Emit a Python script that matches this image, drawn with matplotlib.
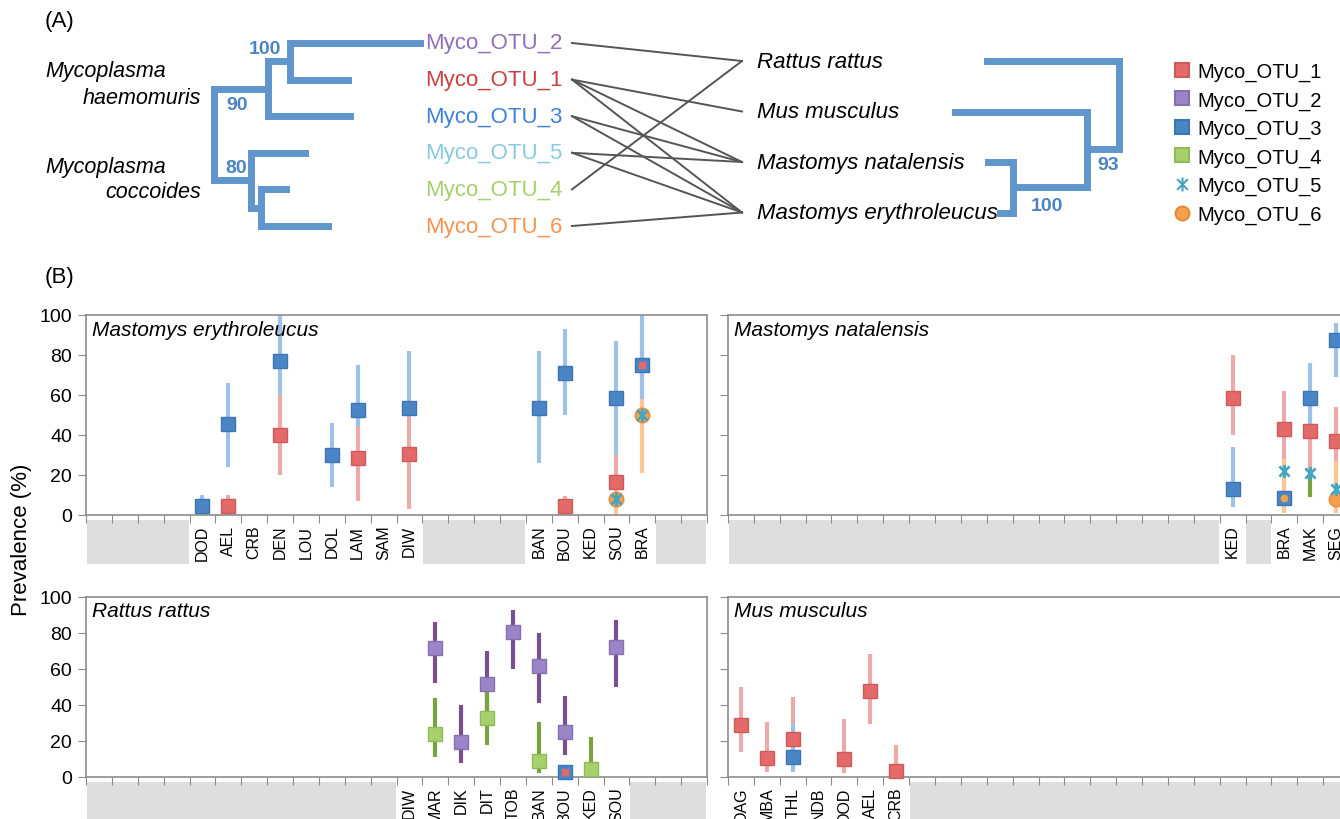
import numpy as np
import matplotlib
matplotlib.use('Agg')
import matplotlib.pyplot as plt
from matplotlib.lines import Line2D
from matplotlib.path import Path
from matplotlib.patches import Rectangle
import matplotlib.transforms as mtransforms

plt.rcParams['font.family'] = ['Liberation Sans', 'DejaVu Sans']

# ---------------- panel A data ----------------
otu_rows = ['Myco_OTU_2', 'Myco_OTU_1', 'Myco_OTU_3', 'Myco_OTU_5', 'Myco_OTU_4', 'Myco_OTU_6']
hosts = ['Rattus rattus', 'Mus musculus', 'Mastomys natalensis', 'Mastomys erythroleucus']
links = [('Myco_OTU_2', 'Rattus rattus'), ('Myco_OTU_1', 'Mus musculus'),
         ('Myco_OTU_1', 'Mastomys natalensis'), ('Myco_OTU_1', 'Mastomys erythroleucus'),
         ('Myco_OTU_3', 'Mastomys natalensis'), ('Myco_OTU_3', 'Mastomys erythroleucus'),
         ('Myco_OTU_5', 'Mastomys natalensis'), ('Myco_OTU_5', 'Mastomys erythroleucus'),
         ('Myco_OTU_4', 'Rattus rattus'), ('Myco_OTU_6', 'Mastomys erythroleucus')]

# cladograms: branch depth from root, tips point to a row
myco_tree = {'d': 0, 'kids': [
    {'d': 54, 'lab': '90', 'off': (-31, -16), 'kids': [
        {'d': 76, 'lab': '100', 'off': (-25, 13), 'kids': [{'d': 206, 'row': 0}, {'d': 134, 'row': 1}]},
        {'d': 136, 'row': 2}]},
    {'d': 37, 'lab': '80', 'off': (-15, 13), 'kids': [
        {'d': 91, 'row': 3},
        {'d': 47, 'kids': [{'d': 72, 'row': 4}, {'d': 114, 'row': 5}]}]}]}
host_tree = {'d': 0, 'kids': [
    {'d': 132, 'row': 0},
    {'d': 32, 'lab': '93', 'off': (21, -15), 'kids': [
        {'d': 164, 'row': 1},
        {'d': 106, 'lab': '100', 'off': (34, -18), 'kids': [{'d': 131, 'row': 2}, {'d': 119, 'row': 3}]}]}]}

# ---------------- panel B data ----------------
me_sites = ['', '', '', '', 'DOD', 'AEL', 'CRB', 'DEN', 'LOU', 'DOL', 'LAM', 'SAM', 'DIW',
            '', '', '', '', 'BAN', 'BOU', 'KED', 'SOU', 'BRA', '', '']
mn_sites = [''] * 19 + ['KED', '', 'BRA', 'MAK', 'SEG']
rr_sites = [''] * 12 + ['DIW', 'MAR', 'DIK', 'DIT', 'TOB', 'BAN', 'BOU', 'KED', 'SOU', '', '', '']
mm_sites = ['DAG', 'MBA', 'THL', 'NDB', 'DOD', 'AEL', 'CRB'] + [''] * 17

# (site, prevalence, lower, upper)
me_otu1 = [('AEL', 4.6, 0, 10), ('DEN', 40, 20, 60), ('LAM', 28.4, 7, 44), ('DIW', 30.7, 3, 52),
           ('BOU', 4.6, 0, 9.5), ('SOU', 16.7, 5, 30), ('BRA', 75, 60, 88)]
me_otu3 = [('DOD', 4.6, 0, 10), ('AEL', 45.3, 24, 66), ('DEN', 77, 60, 100), ('DOL', 30, 14, 46),
           ('LAM', 52.4, 44, 75), ('DIW', 53.7, 52, 82), ('BAN', 53.7, 26, 82), ('BOU', 71, 50, 93),
           ('SOU', 58.4, 30, 87), ('BRA', 75, 58, 100)]
me_otu5 = [('SOU', 8, None, None), ('BRA', 50, None, None)]
me_otu6 = [('SOU', 8, 0, 14), ('BRA', 50, 21, 58)]

mn_otu1 = [('KED', 58.7, 40, 80), ('BRA', 43, 26, 62), ('MAK', 41.8, 20, 58), ('SEG', 37, 24, 54)]
mn_otu3 = [('KED', 13, 4, 34), ('BRA', 8.5, 2, 24), ('MAK', 58.4, 45, 76), ('SEG', 87.5, 69, 96)]
mn_otu4 = [('MAK', None, 9, 21)]
mn_otu5 = [('BRA', 21.8, None, None), ('MAK', 21, None, None), ('SEG', 13, None, None)]
mn_otu6 = [('BRA', 8.5, 1, 28), ('SEG', 8, 1, 27)]

rr_otu1 = [('BOU', 3, None, None)]
rr_otu2 = [('MAR', 71.6, 52, 86), ('DIK', 19.5, 8, 40), ('DIT', 51.8, 35, 70), ('TOB', 80.8, 60, 93),
           ('BAN', 61.6, 41, 80), ('BOU', 24.9, 12, 45), ('SOU', 72.5, 50, 87)]
rr_otu3 = [('BOU', 3, None, None)]
rr_otu4 = [('MAR', 23.7, 11, 44), ('DIT', 32.9, 18, 50), ('BAN', 9, 2, 30.5), ('KED', 4.2, 0, 22.5)]

mm_otu1 = [('DAG', 29, 14, 50), ('MBA', 10.7, 3, 30.5), ('THL', 21, 8, 44.5), ('DOD', 10, 2, 32),
           ('AEL', 47.6, 29.5, 68.5), ('CRB', 3.2, 0, 18)]
mm_otu3 = [('THL', 11.2, 3, 30)]

# markers drawn smaller because they sit on top of another one
small_marks = {('ME', 'OTU1', 'BRA'), ('RR', 'OTU1', 'BOU'), ('MN', 'OTU6', 'BRA')}

star = Path([(-1, -1), (1, 1), (-1, 1), (1, -1), (0, -1.3), (0, 1.3)],
            [Path.MOVETO, Path.LINETO, Path.MOVETO, Path.LINETO, Path.MOVETO, Path.LINETO])

otu_style = {
    'OTU1': dict(marker='s', face='#e46a6a', edge='#cf5a5a', bar='#eeaaaa', ms=9.5),
    'OTU2': dict(marker='s', face='#9c85c6', edge='#8670b0', bar='#76508f', ms=9.5),
    'OTU3': dict(marker='s', face='#4a86c6', edge='#3d74b2', bar='#a0c1e6', ms=9.5),
    'OTU4': dict(marker='s', face='#a8d06c', edge='#90ba55', bar='#7aa33f', ms=9.5),
    'OTU5': dict(marker=star, face='none', edge='#45a6c0', bar='#9fd5e3', ms=9.5),
    'OTU6': dict(marker='o', face='#f6a04e', edge='#e58a3a', bar='#fbc797', ms=10.5),
}
otu_text_col = {'Myco_OTU_2': '#8e6fba', 'Myco_OTU_1': '#c9403f', 'Myco_OTU_3': '#3d82d6',
                'Myco_OTU_5': '#86cbe0', 'Myco_OTU_4': '#a5d06a', 'Myco_OTU_6': '#f39450'}
tree_col = '#6096cc'
boot_col = '#4a84c6'
frame_col = '#8c8c8c'

W, H = 1340, 820
fig = plt.figure(figsize=(W / 100, H / 100), dpi=100)

# ---------------- panel A ----------------
axA = fig.add_axes([0, 1 - 265 / H, 1, 265 / H])
axA.set_xlim(0, W)
axA.set_ylim(265, 0)
axA.axis('off')


def draw_tree(ax, node, root_x, sign, row_y):
    x = root_x + sign * node['d']
    if 'row' in node:
        return x, row_y(node['row'])
    pts = [draw_tree(ax, k, root_x, sign, row_y) for k in node['kids']]
    ys = [p[1] for p in pts]
    for cx, cy in pts:
        ax.plot([x, cx], [cy, cy], color=tree_col, lw=5, solid_capstyle='projecting')
    ax.plot([x, x], [min(ys), max(ys)], color=tree_col, lw=5, solid_capstyle='projecting')
    y = (min(ys) + max(ys)) / 2
    if 'lab' in node:
        ax.annotate(node['lab'], (x, y), xytext=node['off'], textcoords='offset pixels',
                    ha='center', va='center', color=boot_col, fontsize=14, fontweight='bold')
    return x, y


otu_y = lambda i: 44 + 36.6 * i
host_y = lambda i: 62 + 50.5 * i
draw_tree(axA, myco_tree, 214, 1, otu_y)
draw_tree(axA, host_tree, 1119, -1, host_y)

for i, name in enumerate(otu_rows):
    axA.text(425, otu_y(i), name, color=otu_text_col[name], fontsize=16, va='center', ha='left')
for i, name in enumerate(hosts):
    axA.text(757, host_y(i), name, style='italic', fontsize=16, va='center', ha='left')
for o, h in links:
    axA.plot([572, 742], [otu_y(otu_rows.index(o)), host_y(hosts.index(h))], color='#555555', lw=1.4)

axA.text(45, 72, 'Mycoplasma', style='italic', fontsize=15.5, va='center', ha='left')
axA.text(201, 98, 'haemomuris', style='italic', fontsize=15.5, va='center', ha='right')
axA.text(45, 167, 'Mycoplasma', style='italic', fontsize=15.5, va='center', ha='left')
axA.text(201, 193, 'coccoides', style='italic', fontsize=15.5, va='center', ha='right')
axA.text(45, 22, '(A)', fontsize=16, va='center', ha='left')

handles = []
for k in ['OTU1', 'OTU2', 'OTU3', 'OTU4', 'OTU5', 'OTU6']:
    s = otu_style[k]
    handles.append(Line2D([], [], linestyle='none', marker=s['marker'], markersize=10,
                          markerfacecolor=s['face'], markeredgecolor=s['edge'], markeredgewidth=1.5))
fig.legend(handles, ['Myco_' + k[:3] + '_' + k[3] for k in otu_style], loc='upper left',
           bbox_to_anchor=(1174 / W, 1 - 63 / H), frameon=False, fontsize=14.5,
           handlelength=0.8, handletextpad=0.35, labelspacing=0.46, borderpad=0, borderaxespad=0)

# ---------------- panel B ----------------
ax_me = fig.add_axes([86 / W, 1 - 516 / H, 621 / W, 200 / H])
ax_mn = fig.add_axes([728 / W, 1 - 516 / H, 621 / W, 200 / H])
ax_rr = fig.add_axes([86 / W, 1 - 778 / H, 621 / W, 180 / H])
ax_mm = fig.add_axes([728 / W, 1 - 778 / H, 621 / W, 180 / H])


def draw_panel(ax, key, sites, title, series, ylabels, h_px):
    n = len(sites)
    ax.set_xlim(0, n)
    ax.set_ylim(0, 100)
    ax.set_xticks(np.arange(n + 1))
    ax.set_xticklabels([])
    ax.set_xticks(np.arange(n) + 0.5, minor=True)
    ax.set_xticklabels(sites, minor=True, rotation=90, fontsize=11.5)
    ax.tick_params(axis='x', which='major', direction='out', length=6, color=frame_col)
    ax.tick_params(axis='x', which='minor', length=0, pad=7)
    ax.set_yticks(np.arange(0, 101, 20))
    if not ylabels:
        ax.set_yticklabels([])
    ax.tick_params(axis='y', direction='out', length=6, color=frame_col, labelsize=14, pad=4)
    for sp in ax.spines.values():
        sp.set_color(frame_col)
        sp.set_linewidth(1.2)

    # grey cells under empty categories
    trans = mtransforms.blended_transform_factory(ax.transData, ax.transAxes)
    i = 0
    while i < n:
        if sites[i] == '':
            j = i
            while j < n and sites[j] == '':
                j += 1
            ax.add_patch(Rectangle((i + 0.03, -5 / h_px), j - i - 0.06, -44 / h_px, transform=trans,
                                   color='#dedede', clip_on=False, lw=0))
            i = j
        else:
            i += 1

    ax.text(0.01, 0.975, title, transform=ax.transAxes, va='top', ha='left',
            style='italic', fontsize=15)

    # error bars first, markers on top
    for otu, pts in series:
        s = otu_style[otu]
        for site, v, lo, hi in pts:
            if lo is not None:
                x = sites.index(site) + 0.5
                ax.vlines(x, lo, hi, color=s['bar'], lw=3, zorder=2)
    later = []
    for otu, pts in sorted(series, key=lambda p: p[0] == 'OTU5'):
        s = otu_style[otu]
        for site, v, lo, hi in pts:
            if v is None:
                continue
            x = sites.index(site) + 0.5
            if (key, otu, site) in small_marks:
                later.append((otu, x, v))
                continue
            ax.plot(x, v, linestyle='none', marker=s['marker'], markersize=s['ms'],
                    markerfacecolor=s['face'], markeredgecolor=s['edge'],
                    markeredgewidth=2 if otu == 'OTU5' else 1, zorder=3, clip_on=False)
    for otu, x, v in later:
        s = otu_style[otu]
        ax.plot(x, v, linestyle='none', marker=s['marker'], markersize=4.5,
                markerfacecolor=s['face'], markeredgecolor=s['face'], zorder=4, clip_on=False)


draw_panel(ax_me, 'ME', me_sites, 'Mastomys erythroleucus',
           [('OTU1', me_otu1), ('OTU3', me_otu3), ('OTU5', me_otu5), ('OTU6', me_otu6)], True, 200)
draw_panel(ax_mn, 'MN', mn_sites, 'Mastomys natalensis',
           [('OTU1', mn_otu1), ('OTU3', mn_otu3), ('OTU4', mn_otu4), ('OTU5', mn_otu5), ('OTU6', mn_otu6)],
           False, 200)
draw_panel(ax_rr, 'RR', rr_sites, 'Rattus rattus',
           [('OTU1', rr_otu1), ('OTU2', rr_otu2), ('OTU3', rr_otu3), ('OTU4', rr_otu4)], True, 180)
draw_panel(ax_mm, 'MM', mm_sites, 'Mus musculus',
           [('OTU1', mm_otu1), ('OTU3', mm_otu3)], False, 180)

fig.text(45 / W, 1 - 278 / H, '(B)', fontsize=16, va='center', ha='left')
fig.text(22 / W, 1 - 540 / H, 'Prevalence (%)', rotation=90, fontsize=16, va='center', ha='center')

fig.savefig('out.png', dpi=100)
